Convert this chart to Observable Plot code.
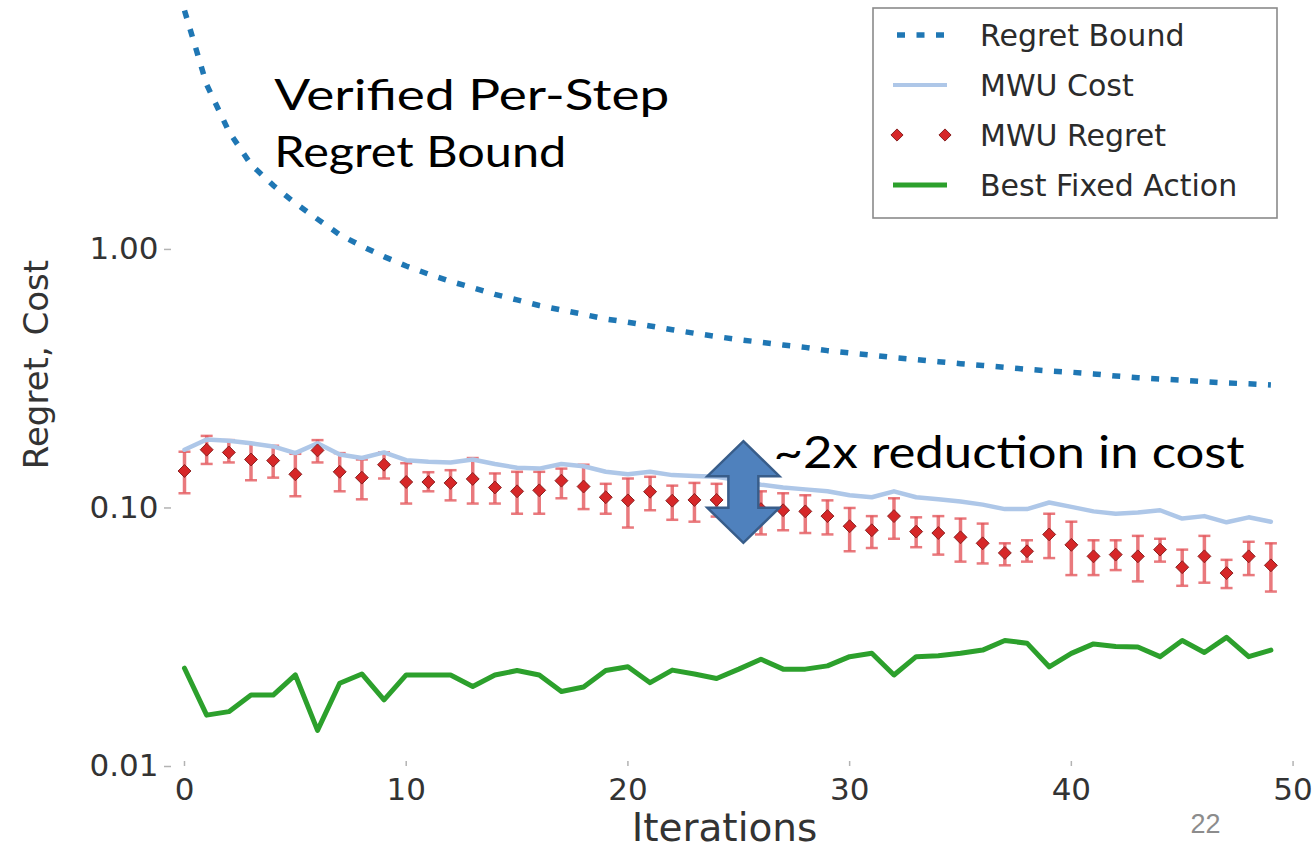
<!DOCTYPE html>
<html>
<head>
<meta charset="utf-8">
<script src="https://cdn.jsdelivr.net/npm/d3@7"></script>
<script src="https://cdn.jsdelivr.net/npm/@observablehq/plot@0.6"></script>
<style>
  html, body { margin: 0; padding: 0; background: #ffffff; }
  #chart { width: 1316px; height: 851px; overflow: hidden; }
</style>
</head>
<body>
<div id="chart"></div>
<script>
// ---------------- data ----------------
const iterations = [0,1,2,3,4,5,6,7,8,9,10,11,12,13,14,15,16,17,18,19,20,21,22,23,24,25,26,27,28,29,30,31,32,33,34,35,36,37,38,39,40,41,42,43,44,45,46,47,48,49];

const regretBound = [8.4, 4.34, 2.86, 2.13, 1.77, 1.51, 1.31, 1.14, 1.03, 0.938,
  0.863, 0.803, 0.752, 0.711, 0.670, 0.638, 0.607, 0.583, 0.561, 0.538,
  0.523, 0.506, 0.489, 0.474, 0.460, 0.448, 0.4375, 0.427, 0.418, 0.406,
  0.398, 0.390, 0.3815, 0.375, 0.368, 0.3615, 0.356, 0.350, 0.344, 0.339,
  0.335, 0.330, 0.324, 0.319, 0.3155, 0.312, 0.308, 0.3045, 0.302, 0.299];

const mwuCost = [0.168, 0.184, 0.182, 0.178, 0.173, 0.163, 0.178, 0.161, 0.156, 0.164,
  0.153, 0.151, 0.150, 0.154, 0.148, 0.143, 0.142, 0.148, 0.145, 0.138,
  0.135, 0.138, 0.134, 0.133, 0.132, 0.128, 0.123, 0.120, 0.118, 0.116,
  0.112, 0.110, 0.116, 0.110, 0.108, 0.106, 0.103, 0.099, 0.099, 0.105,
  0.101, 0.097, 0.095, 0.096, 0.098, 0.091, 0.093, 0.088, 0.092, 0.0885];

const mwuRegret = [0.139, 0.168, 0.164, 0.154, 0.1525, 0.135, 0.167, 0.138, 0.131, 0.147,
  0.126, 0.126, 0.125, 0.1295, 0.120, 0.116, 0.117, 0.1275, 0.121, 0.110,
  0.107, 0.1156, 0.1067, 0.1074, 0.1074, 0.105, 0.099, 0.098, 0.097, 0.093,
  0.085, 0.082, 0.093, 0.081, 0.080, 0.077, 0.073, 0.067, 0.068, 0.079,
  0.072, 0.065, 0.066, 0.065, 0.069, 0.059, 0.065, 0.056, 0.065, 0.060];

const regretHigh = [0.165, 0.190, 0.183, 0.178, 0.174, 0.162, 0.183, 0.163, 0.154, 0.164,
  0.149, 0.1375, 0.140, 0.156, 0.136, 0.138, 0.138, 0.142, 0.147, 0.124,
  0.130, 0.132, 0.122, 0.125, 0.124, 0.123, 0.116, 0.114, 0.112, 0.107,
  0.100, 0.093, 0.109, 0.092, 0.093, 0.091, 0.087, 0.073, 0.075, 0.095,
  0.0885, 0.075, 0.075, 0.078, 0.076, 0.069, 0.078, 0.063, 0.074, 0.073];

const regretLow = [0.114, 0.148, 0.150, 0.128, 0.131, 0.111, 0.150, 0.116, 0.108, 0.130,
  0.104, 0.116, 0.107, 0.104, 0.104, 0.095, 0.095, 0.109, 0.099, 0.095,
  0.084, 0.098, 0.090, 0.0885, 0.0926, 0.088, 0.079, 0.082, 0.080, 0.079,
  0.068, 0.070, 0.076, 0.0705, 0.066, 0.062, 0.061, 0.060, 0.062, 0.064,
  0.055, 0.055, 0.0575, 0.052, 0.062, 0.050, 0.0514, 0.049, 0.055, 0.0475];

const bestFixedAction = [0.0240, 0.0158, 0.0163, 0.0189, 0.0189, 0.0226, 0.0138, 0.0210, 0.0228, 0.0181,
  0.0226, 0.0226, 0.0226, 0.0204, 0.0226, 0.0235, 0.0226, 0.0195, 0.0203, 0.0235,
  0.0243, 0.0211, 0.0236, 0.0228, 0.0219, 0.0238, 0.0260, 0.0238, 0.0238, 0.0245,
  0.0266, 0.0274, 0.0226, 0.0266, 0.0268, 0.0274, 0.0282, 0.0307, 0.0300, 0.0243,
  0.0274, 0.0298, 0.0291, 0.0290, 0.0266, 0.0307, 0.0276, 0.0316, 0.0266, 0.0282];

const seriesNames = ["Regret Bound", "MWU Cost", "MWU Regret", "Best Fixed Action"];
const seriesColors = ["#1f77b4", "#aec7e8", "#d62728", "#2ca02c"];

const xTicks = [0, 10, 20, 30, 40, 50];
const yTicks = [0.01, 0.1, 1];
const yTickLabels = ["0.01", "0.10", "1.00"];
const xLabel = "Iterations";
const yLabel = "Regret, Cost";
const slideNumber = "22";

// annotations placed in data coordinates
const annotationTexts = ["Verified Per-Step", "Regret Bound", "~2x reduction in cost"];
const annotationX = [4.05, 4.05, 26.57];
const annotationY = [3.46, 2.09, 0.1424];
const annotationWidths = [395, 292, 471];
const annotationSizes = [42, 42, 44];
const arrowX = 25.23;
const arrowTop = 0.1805;
const arrowBottom = 0.0730;

// ---------------- table ----------------
const rows = iterations.map((it, k) => ({
  it,
  bound: regretBound[k],
  cost: mwuCost[k],
  regret: mwuRegret[k],
  hi: regretHigh[k],
  lo: regretLow[k],
  best: bestFixedAction[k]
}));
const annotations = annotationTexts.map((t, k) => ({
  text: t, x: annotationX[k], y: annotationY[k], size: annotationSizes[k]
}));

const errColor = "#e4575c";
const capSymbol = {
  draw(context, size) {
    const w = Math.sqrt(size / Math.PI);
    context.moveTo(-w, 0);
    context.lineTo(w, 0);
  }
};
const boundDash = "8 11.5";

// custom mark: block up-down arrow
function arrowMark(index, scales) {
  const cx = scales.x(arrowX), ty = scales.y(arrowTop), by = scales.y(arrowBottom);
  const hw = 36, sw = 15, hl = 35;
  const pts = [[cx, ty], [cx + hw, ty + hl], [cx + sw, ty + hl], [cx + sw, by - hl], [cx + hw, by - hl],
    [cx, by], [cx - hw, by - hl], [cx - sw, by - hl], [cx - sw, ty + hl], [cx - hw, ty + hl]];
  const g = d3.create("svg:g").attr("aria-label", "arrow");
  g.append("path")
    .attr("d", "M" + pts.map(p => p.join(",")).join("L") + "Z")
    .attr("fill", "#4f81bd")
    .attr("stroke", "#385d8a")
    .attr("stroke-width", 2.5)
    .attr("stroke-linejoin", "miter");
  return g.node();
}

// custom mark: legend box
function legendMark(index, scales, values, dims) {
  const g = d3.create("svg:g").attr("aria-label", "legend");
  const bx = dims.width - 443, by = 8, bw = 404, bh = 210;
  g.append("rect").attr("x", bx).attr("y", by).attr("width", bw).attr("height", bh)
    .attr("fill", "#ffffff").attr("stroke", "#8a8a8a").attr("stroke-width", 1.6);
  const hx1 = bx + 20, hx2 = bx + 74, tx = bx + 107;
  seriesNames.forEach((name, k) => {
    const cy = by + 27 + 50 * k;
    if (k === 0) {
      g.append("line").attr("x1", hx1 + 4).attr("x2", hx2).attr("y1", cy).attr("y2", cy)
        .attr("stroke", seriesColors[0]).attr("stroke-width", 5.5).attr("stroke-dasharray", boundDash);
    } else if (k === 1) {
      g.append("line").attr("x1", hx1).attr("x2", hx2).attr("y1", cy).attr("y2", cy)
        .attr("stroke", seriesColors[1]).attr("stroke-width", 4);
    } else if (k === 2) {
      [hx1 + 4, hx2 - 2].forEach(px => {
        g.append("path").attr("d", d3.symbol(d3.symbolDiamond2, Math.PI * 30)())
          .attr("transform", `translate(${px},${cy})`)
          .attr("fill", seriesColors[2]).attr("stroke", "#8a1f1f").attr("stroke-width", 1);
      });
    } else {
      g.append("line").attr("x1", hx1).attr("x2", hx2).attr("y1", cy).attr("y2", cy)
        .attr("stroke", seriesColors[3]).attr("stroke-width", 5);
    }
    g.append("text").attr("x", tx).attr("y", cy).attr("dy", "0.36em")
      .attr("text-anchor", "start")
      .attr("font-size", 30).attr("fill", "#2b2b2b").attr("font-family", "DejaVu Sans")
      .text(name);
  });
  return g.node();
}

const chart = Plot.plot({
  width: 1316,
  height: 851,
  marginLeft: 171,
  marginRight: 19,
  marginTop: 0,
  marginBottom: 85,
  style: { fontFamily: "DejaVu Sans", background: "#ffffff", color: "#333333" },
  x: { domain: [-0.586, 50.2] },
  y: { type: "log", domain: [0.01, 9.18] },
  marks: [
    Plot.axisX({ ticks: xTicks, tickFormat: d => String(d), tickSize: -5, tickPadding: 16, fontSize: 31, label: null }),
    Plot.axisY({ ticks: yTicks, tickFormat: d => yTickLabels[yTicks.indexOf(d)], tickSize: 7, tickPadding: 6, fontSize: 31, label: null }),
    Plot.line(rows, { x: "it", y: "bound", stroke: seriesColors[0], strokeWidth: 5.5, strokeDasharray: boundDash, strokeLinecap: "butt", clip: true }),
    Plot.ruleX(rows, { x: "it", y1: "lo", y2: "hi", stroke: errColor, strokeOpacity: 0.8, strokeWidth: 3.5 }),
    Plot.dot(rows, { x: "it", y: "hi", symbol: capSymbol, r: 6, stroke: errColor, strokeOpacity: 0.8, strokeWidth: 2.5, fill: "none" }),
    Plot.dot(rows, { x: "it", y: "lo", symbol: capSymbol, r: 6, stroke: errColor, strokeOpacity: 0.8, strokeWidth: 2.5, fill: "none" }),
    Plot.line(rows, { x: "it", y: "cost", stroke: seriesColors[1], strokeWidth: 4.5 }),
    Plot.dot(rows, { x: "it", y: "regret", symbol: "diamond2", r: 5.8, fill: seriesColors[2], stroke: "#8a1f1f", strokeWidth: 1 }),
    Plot.line(rows, { x: "it", y: "best", stroke: seriesColors[3], strokeWidth: 5 }),
    legendMark,
    arrowMark,
    Plot.text(annotations, { x: "x", y: "y", text: "text", fontSize: "size", textAnchor: "start", lineAnchor: "bottom",
      fill: "#000000", fontFamily: "'Comic Sans MS', Lato, sans-serif" }),
    Plot.text([xLabel], { frameAnchor: "bottom", text: d => d, dx: -10, dy: 62, textAnchor: "middle", lineAnchor: "middle", fontSize: 39, fill: "#333333" }),
    Plot.text([yLabel], { frameAnchor: "left", text: d => d, rotate: -90, dx: -134, dy: -19, textAnchor: "middle", lineAnchor: "middle", fontSize: 34, fill: "#333333" }),
    Plot.text([slideNumber], { frameAnchor: "bottom-right", text: d => d, dx: -77, dy: 58, textAnchor: "end", lineAnchor: "middle",
      fontSize: 27, fill: "#8c8c8c", fontFamily: "'Liberation Sans', sans-serif" })
  ]
});

// light grey tick marks as in the reference
d3.select(chart).selectAll('[aria-label$="-axis tick"]').attr("stroke", "#b3b3b3").attr("stroke-width", 1.5);
// stretch the handwritten-style annotations to the reference widths
d3.select(chart).selectAll("text").each(function () {
  const k = annotationTexts.indexOf(this.textContent);
  if (k >= 0 && this.closest('[aria-label="legend"]') === null) {
    this.setAttribute("textLength", annotationWidths[k]);
    this.setAttribute("lengthAdjust", "spacingAndGlyphs");
  }
});

document.getElementById("chart").appendChild(chart);
</script>
</body>
</html>
